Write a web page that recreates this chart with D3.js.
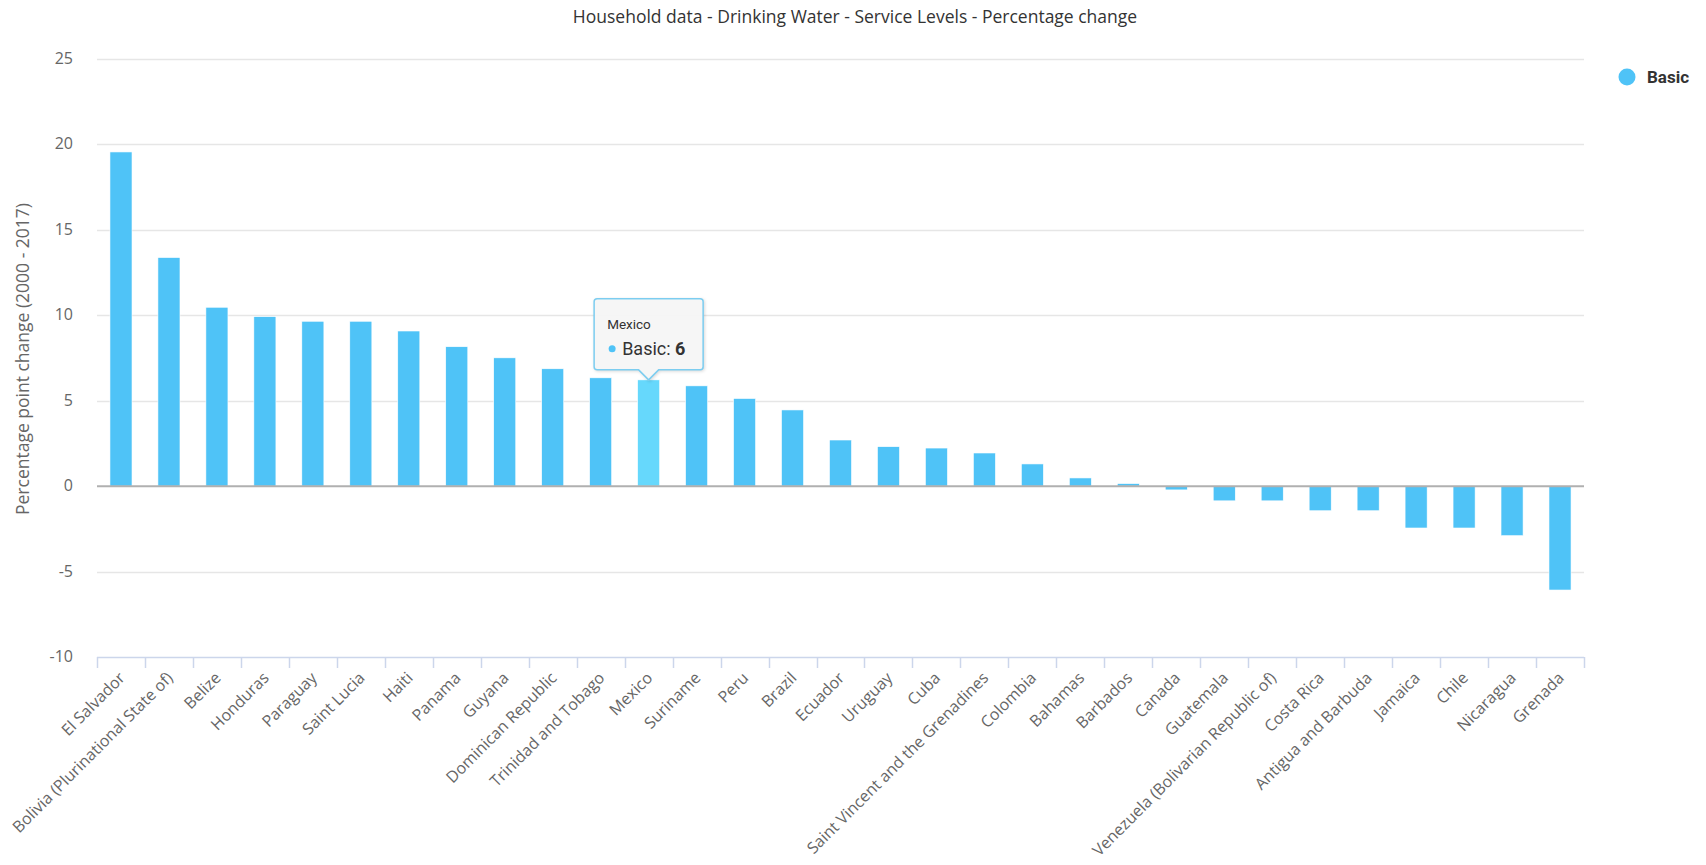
<!DOCTYPE html>
<html>
<head>
<meta charset="utf-8">
<script src="https://cdn.jsdelivr.net/npm/d3@7"></script>
<style>
  body { margin: 0; background: #fff; }
  svg { display: block; }
</style>
</head>
<body>
<svg width="1706" height="865"></svg>
<script>
// Data
var countries = ["El Salvador", "Bolivia (Plurinational State of)", "Belize", "Honduras", "Paraguay",
  "Saint Lucia", "Haiti", "Panama", "Guyana", "Dominican Republic", "Trinidad and Tobago", "Mexico",
  "Suriname", "Peru", "Brazil", "Ecuador", "Uruguay", "Cuba", "Saint Vincent and the Grenadines",
  "Colombia", "Bahamas", "Barbados", "Canada", "Guatemala", "Venezuela (Bolivarian Republic of)",
  "Costa Rica", "Antigua and Barbuda", "Jamaica", "Chile", "Nicaragua", "Grenada"];
var basic = [19.56, 13.38, 10.47, 9.92, 9.65, 9.65, 9.08, 8.16, 7.51, 6.87, 6.34, 6.22,
  5.87, 5.13, 4.46, 2.7, 2.31, 2.23, 1.94, 1.3, 0.48, 0.15, -0.22, -0.86, -0.86,
  -1.44, -1.44, -2.45, -2.45, -2.9, -6.08];
var yTicks = [-10, -5, 0, 5, 10, 15, 20, 25];
var seriesName = "Basic";
var hovered = "Mexico";

var svg = d3.select("svg");

// plot area
var plotLeft = 97, plotRight = 1584, plotTop = 59, plotBottom = 657;

// Scales
var x = d3.scaleBand()
    .domain(countries)
    .range([plotLeft, plotRight])
    .padding(0);

var y = d3.scaleLinear()
    .domain([-10, 25])
    .range([plotBottom, plotTop]);

var barW = x.bandwidth() * 0.46;

// Title
svg.append("text")
    .attr("x", 855)
    .attr("y", 23)
    .attr("text-anchor", "middle")
    .style("font-family", "'Open Sans', sans-serif")
    .style("font-size", "17.5px")
    .style("fill", "#333")
    .text("Household data - Drinking Water - Service Levels - Percentage change");

// Gridlines
svg.append("g")
    .selectAll("line")
    .data(yTicks.filter(d => d !== 0 && d !== -10))
    .enter()
    .append("line")
    .attr("x1", plotLeft)
    .attr("x2", plotRight)
    .attr("y1", d => Math.round(y(d)) + 0.5)
    .attr("y2", d => Math.round(y(d)) + 0.5)
    .attr("stroke", "#e6e6e6")
    .attr("stroke-width", 1.5);

// Y tick labels
svg.append("g")
    .selectAll("text")
    .data(yTicks)
    .enter()
    .append("text")
    .attr("x", 73)
    .attr("y", d => y(d) + 5)
    .attr("text-anchor", "end")
    .style("font-family", "'Open Sans', sans-serif")
    .style("font-size", "16px")
    .style("fill", "#666")
    .text(d => d);

// Y axis title
svg.append("text")
    .attr("transform", "translate(29,359) rotate(-90)")
    .attr("text-anchor", "middle")
    .style("font-family", "'Open Sans', sans-serif")
    .style("font-size", "17.5px")
    .style("fill", "#666")
    .text("Percentage point change (2000 - 2017)");

// Bars
svg.append("g")
    .selectAll("rect")
    .data(countries)
    .enter()
    .append("rect")
    .attr("x", d => x(d) + (x.bandwidth() - barW) / 2)
    .attr("width", barW)
    .attr("y", (d, i) => y(Math.max(0, basic[i])))
    .attr("height", (d, i) => Math.abs(y(basic[i]) - y(0)))
    .attr("fill", d => d === hovered ? "#66d8fc" : "#4fc3f7")
    .attr("stroke", "#ffffff")
    .attr("stroke-width", 0.6);

// Zero line
svg.append("line")
    .attr("x1", plotLeft)
    .attr("x2", plotRight)
    .attr("y1", y(0))
    .attr("y2", y(0))
    .attr("stroke", "#b0b0b0")
    .attr("stroke-width", 2);

// X axis line and ticks
svg.append("line")
    .attr("x1", plotLeft)
    .attr("x2", plotRight)
    .attr("y1", plotBottom + 0.5)
    .attr("y2", plotBottom + 0.5)
    .attr("stroke", "#ccd6eb")
    .attr("stroke-width", 1.5);

var tickPos = countries.map(d => x(d)).concat([plotRight]);
svg.append("g")
    .selectAll("line")
    .data(tickPos)
    .enter()
    .append("line")
    .attr("x1", d => Math.round(d) + 0.5)
    .attr("x2", d => Math.round(d) + 0.5)
    .attr("y1", plotBottom)
    .attr("y2", plotBottom + 11)
    .attr("stroke", "#ccd6eb")
    .attr("stroke-width", 1.5);

// X labels
svg.append("g")
    .selectAll("text")
    .data(countries)
    .enter()
    .append("text")
    .attr("transform", d => "translate(" + (x(d) + x.bandwidth() / 2 + 1) + "," + (plotBottom + 18) + ") rotate(-45)")
    .attr("text-anchor", "end")
    .attr("dy", "0.35em")
    .style("font-family", "'Open Sans', sans-serif")
    .style("font-size", "16px")
    .style("fill", "#666")
    .text(d => d);

// Legend
svg.append("circle")
    .attr("cx", 1627)
    .attr("cy", 77)
    .attr("r", 8.5)
    .attr("fill", "#4fc3f7");

svg.append("text")
    .attr("x", 1647)
    .attr("y", 83)
    .style("font-family", "Roboto, sans-serif")
    .style("font-size", "17px")
    .style("font-weight", "bold")
    .style("fill", "#333")
    .text(seriesName);

// Tooltip for the hovered bar
var hi = countries.indexOf(hovered);
var cx = x(hovered) + x.bandwidth() / 2;
var tipY = y(basic[hi]);
var bw = 109, bh = 71, bx = cx - bw / 2, by = tipY - 10 - bh;

var tip = svg.append("g");
tip.append("path")
    .attr("d", "M" + (bx + 3) + "," + by +
      " H" + (bx + bw - 3) + " Q" + (bx + bw) + "," + by + " " + (bx + bw) + "," + (by + 3) +
      " V" + (by + bh - 3) + " Q" + (bx + bw) + "," + (by + bh) + " " + (bx + bw - 3) + "," + (by + bh) +
      " H" + (cx + 10) + " L" + cx + "," + tipY + " L" + (cx - 10) + "," + (by + bh) +
      " H" + (bx + 3) + " Q" + bx + "," + (by + bh) + " " + bx + "," + (by + bh - 3) +
      " V" + (by + 3) + " Q" + bx + "," + by + " " + (bx + 3) + "," + by + " Z")
    .attr("fill", "rgba(247,247,247,0.92)")
    .attr("stroke", "#7ccdf0")
    .attr("stroke-width", 1.5)
    .style("filter", "drop-shadow(1px 1px 1.5px rgba(0,0,0,0.15))");

tip.append("text")
    .attr("x", bx + 13)
    .attr("y", by + 30)
    .style("font-family", "Roboto, sans-serif")
    .style("font-size", "13.5px")
    .style("fill", "#333")
    .text(hovered);

tip.append("circle")
    .attr("cx", bx + 18)
    .attr("cy", by + 50)
    .attr("r", 3.5)
    .attr("fill", "#4fc3f7");

var line2 = tip.append("text")
    .attr("x", bx + 28)
    .attr("y", by + 56)
    .style("font-family", "Roboto, sans-serif")
    .style("font-size", "18px")
    .style("fill", "#333");
line2.append("tspan").text(seriesName + ": ");
line2.append("tspan").style("font-weight", "bold").text(Math.round(basic[hi]));
</script>
</body>
</html>
